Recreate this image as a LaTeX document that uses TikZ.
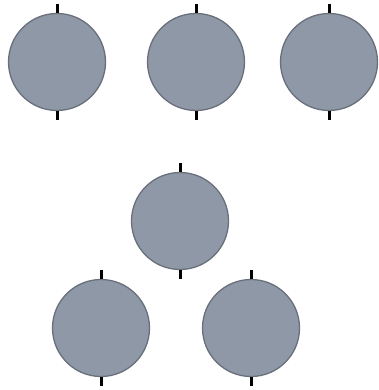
\documentclass[tikz,border=0pt]{standalone}
\definecolor{discfill}{RGB}{143,152,166}
\definecolor{discedge}{RGB}{105,112,124}
\tikzset{
  disc/.style={circle, draw=discedge, line width=1.3pt, fill=discfill, minimum size=97pt, inner sep=0pt},
  tick/.style={line width=3pt, black}
}
\begin{document}
\begin{tikzpicture}[x=1pt,y=-1pt]
\useasboundingbox (0,0) rectangle (379,390);
\node[disc] (a) at (57,62) {};
\node[disc] (b) at (196,62) {};
\node[disc] (c) at (329,62) {};
\node[disc] (d) at (180,221) {};
\node[disc] (e) at (101,328) {};
\node[disc] (f) at (251,328) {};
\foreach \n in {a,b,c,d,e,f}{
  \draw[tick] (\n.north) -- ++(0,-9);
  \draw[tick] (\n.south) -- ++(0,9);
}
\end{tikzpicture}
\end{document}
